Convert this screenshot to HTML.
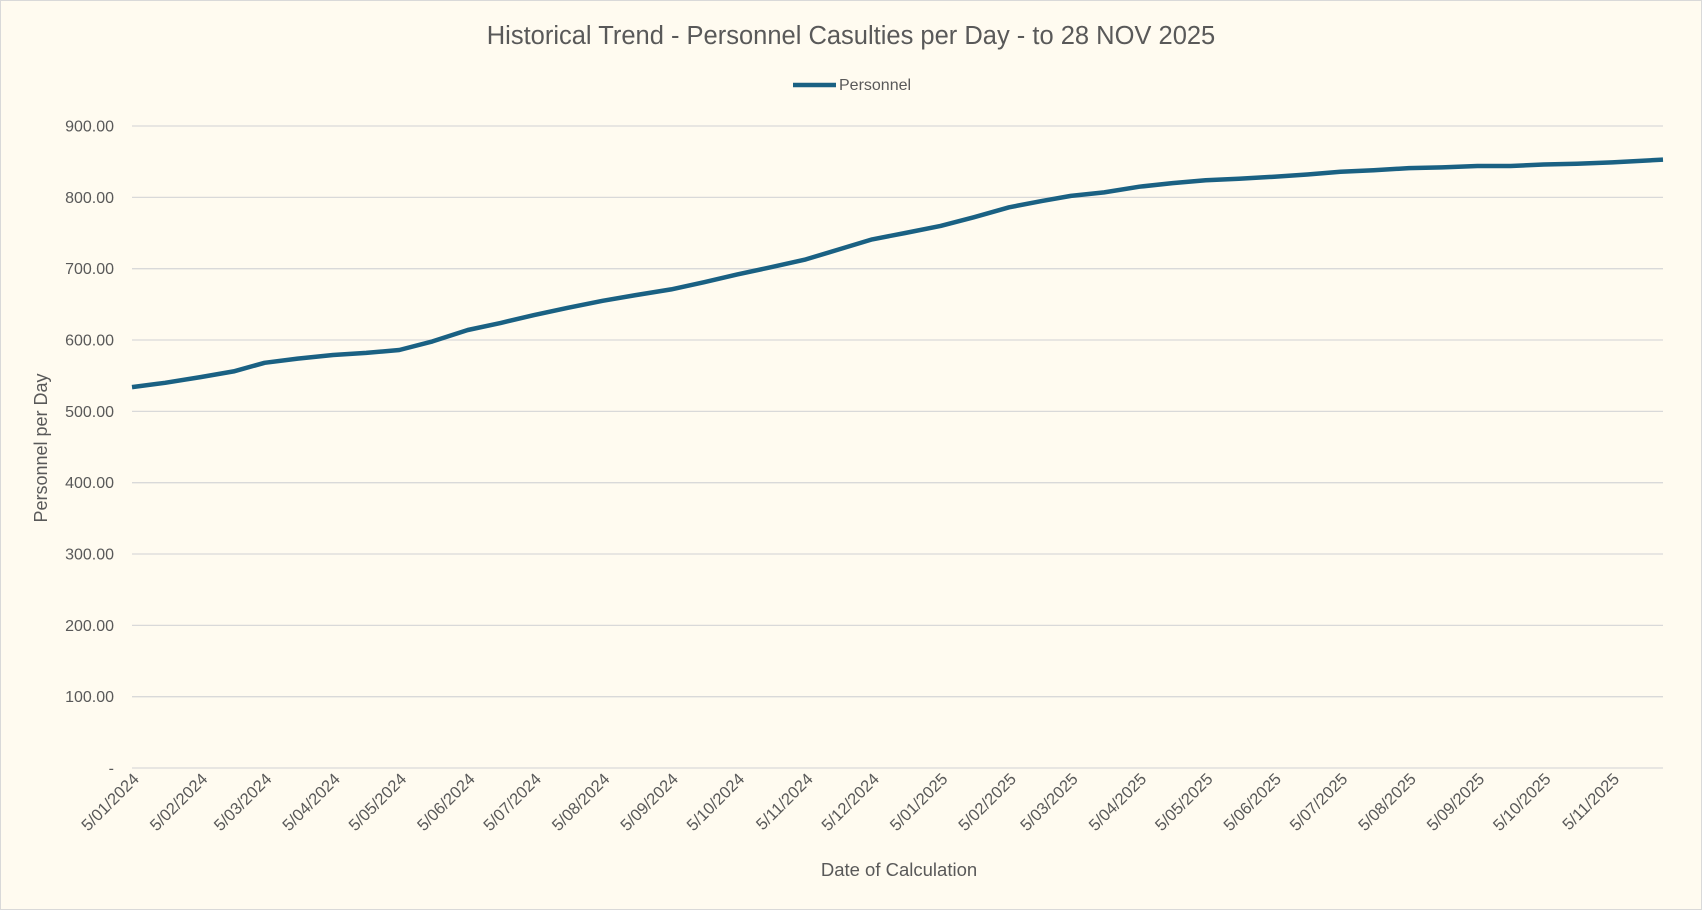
<!DOCTYPE html>
<html><head><meta charset="utf-8"><style>
html,body{margin:0;padding:0;background:#fffbf0;}
svg{display:block;font-family:"Liberation Sans",sans-serif;}
</style></head><body>
<svg id="chart" width="1702" height="910" viewBox="0 0 1702 910">
<rect x="0.5" y="0.5" width="1701" height="909" fill="#fffbf0" stroke="#d9d9d9"/>
<text x="851" y="44" text-anchor="middle" font-size="25.5" fill="#595959">Historical Trend - Personnel Casulties per Day - to 28 NOV 2025</text>
<g>
<line x1="793" y1="85" x2="836" y2="85" stroke="#1a6183" stroke-width="4.5"/>
<text x="839" y="90" font-size="16" fill="#595959">Personnel</text>
</g>
<text transform="translate(47,448) rotate(-90)" text-anchor="middle" font-size="18" fill="#595959">Personnel per Day</text>
<text x="899" y="876" text-anchor="middle" font-size="18.5" fill="#595959">Date of Calculation</text>
<g id="grid"></g><g id="ylabels"></g><g id="xlabels"></g><g id="series"></g>
</svg>
<script>
const yTicks=[0,100,200,300,400,500,600,700,800,900];
const yTickLabels=["-","100.00","200.00","300.00","400.00","500.00","600.00","700.00","800.00","900.00"];
const xTickDates=["2024-01-05","2024-02-05","2024-03-05","2024-04-05","2024-05-05","2024-06-05","2024-07-05","2024-08-05","2024-09-05","2024-10-05","2024-11-05","2024-12-05","2025-01-05","2025-02-05","2025-03-05","2025-04-05","2025-05-05","2025-06-05","2025-07-05","2025-08-05","2025-09-05","2025-10-05","2025-11-05"];
const xTickLabels=["5/01/2024","5/02/2024","5/03/2024","5/04/2024","5/05/2024","5/06/2024","5/07/2024","5/08/2024","5/09/2024","5/10/2024","5/11/2024","5/12/2024","5/01/2025","5/02/2025","5/03/2025","5/04/2025","5/05/2025","5/06/2025","5/07/2025","5/08/2025","5/09/2025","5/10/2025","5/11/2025"];
const seriesDates=["2024-01-05","2024-01-20","2024-02-05","2024-02-20","2024-03-05","2024-03-20","2024-04-05","2024-04-20","2024-05-05","2024-05-20","2024-06-05","2024-06-20","2024-07-05","2024-07-20","2024-08-05","2024-08-20","2024-09-05","2024-09-20","2024-10-05","2024-10-20","2024-11-05","2024-11-20","2024-12-05","2024-12-20","2025-01-05","2025-01-20","2025-02-05","2025-02-20","2025-03-05","2025-03-20","2025-04-05","2025-04-20","2025-05-05","2025-05-20","2025-06-05","2025-06-20","2025-07-05","2025-07-20","2025-08-05","2025-08-20","2025-09-05","2025-09-20","2025-10-05","2025-10-20","2025-11-05","2025-11-28"];
const seriesValues=[534,540,548,556,568,574,579,582,586,598,614,624,635,645,655,663,671,681,692,702,713,727,741,750,760,772,786,795,802,807,815,820,824,826,829,832,836,838,841,842,844,844,846,847,849,853];
const X0=132,X1=1663,Y0=768,YPER=71.33/100;
const t0=Date.parse("2024-01-05"),t1=Date.parse("2025-11-28");
const xs=d=>X0+(Date.parse(d)-t0)/(t1-t0)*(X1-X0);
const ys=v=>Y0-v*YPER;
const NS="http://www.w3.org/2000/svg";
const grid=document.getElementById('grid'),yl=document.getElementById('ylabels'),xl=document.getElementById('xlabels'),ser=document.getElementById('series');
yTicks.forEach((v,i)=>{
 const l=document.createElementNS(NS,'line');
 
 
 l.setAttribute('x1',X0);l.setAttribute('x2',X1);l.setAttribute('y1',ys(v));l.setAttribute('y2',ys(v));
 l.setAttribute('stroke','#d9d9d9');l.setAttribute('stroke-width','1.3');grid.appendChild(l);
 const t=document.createElementNS(NS,'text');
 
 
 t.setAttribute('x',114);t.setAttribute('y',ys(v)+5.5);t.setAttribute('text-anchor','end');
 t.setAttribute('font-size','16');t.setAttribute('fill','#595959');t.textContent=yTickLabels[i];yl.appendChild(t);
});
xTickDates.forEach((d,i)=>{
 const x=xs(d),y=780;
 const t=document.createElementNS(NS,'text');
 
 
 t.setAttribute('transform','translate('+(x+8)+','+y+') rotate(-45)');
 t.setAttribute('text-anchor','end');t.setAttribute('font-size','16.5');t.setAttribute('fill','#595959');
 t.textContent=xTickLabels[i];xl.appendChild(t);
});
const p=document.createElementNS(NS,'polyline');


p.setAttribute('points',seriesDates.map((d,i)=>xs(d).toFixed(1)+','+ys(seriesValues[i]).toFixed(1)).join(' '));
p.setAttribute('fill','none');p.setAttribute('stroke','#1a6183');p.setAttribute('stroke-width','4.5');p.setAttribute('stroke-linejoin','round');
ser.appendChild(p);
</script>
</body></html>
